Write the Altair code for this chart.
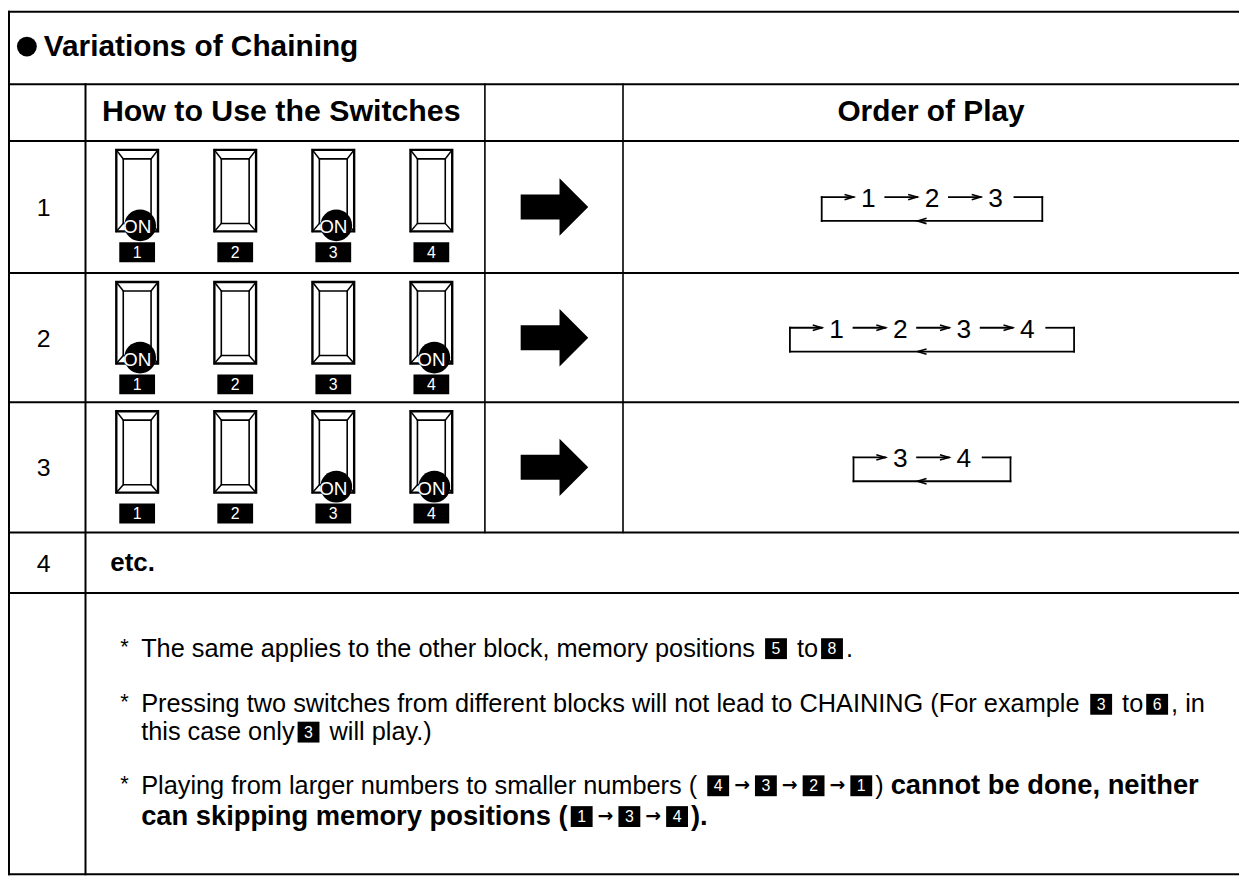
import altair as alt
import pandas as pd

# ---------------- chart content ----------------
TITLE = "Variations of Chaining"
HEADER_SWITCHES = "How to Use the Switches"
HEADER_ORDER = "Order of Play"
ROW_LABELS = ["1", "2", "3", "4"]
SWITCH_LABELS = ["1", "2", "3", "4"]
SWITCH_ON = [[1, 0, 1, 0], [1, 0, 0, 1], [0, 0, 1, 1]]
ORDER_OF_PLAY = [[1, 2, 3], [1, 2, 3, 4], [3, 4]]
ETC_TEXT = "etc."
# segment kinds: r = regular text, B = bold text, k = key box, a = small arrow
NOTE_1 = [[("r", "The same applies to the other block, memory positions "), ("k", "5"),
           ("r", " to"), ("k", "8"), ("r", ".")]]
NOTE_2 = [[("r", "Pressing two switches from different blocks will not lead to CHAINING (For example "),
           ("k", "3"), ("r", " to"), ("k", "6"), ("r", ", in")],
          [("r", "this case only"), ("k", "3"), ("r", " will play.)")]]
NOTE_3 = [[("r", "Playing from larger numbers to smaller numbers ( "), ("k", "4"), ("a", "→"),
           ("k", "3"), ("a", "→"), ("k", "2"), ("a", "→"), ("k", "1"), ("r", ") "),
           ("B", "cannot be done, neither")],
          [("B", "can skipping memory positions ("), ("k", "1"), ("a", "→"), ("k", "3"),
           ("a", "→"), ("k", "4"), ("B", ").")]]
NOTES = [NOTE_1, NOTE_2, NOTE_3]

# ---------------- layout (page pixels) ----------------
X0, X1 = 8, 1247
Y0, Y1 = 8, 878
LEFT, RIGHT, TOP, BOTTOM = 9, 1247, 9, 877
COL_NUM, COL_ARROW, COL_ORDER = 86, 488, 627
ROW_EDGES = [82, 139, 272, 402, 533, 594]
SW_X0, SW_PITCH = 138, 98.7
ORDER_CX = 938
NOTE_LINES_Y = [[650], [706, 734], [788, 819]]
FS_REG, FS_BOLD = 25.5, 27.5

# Arial / Liberation Sans advance widths (1/1000 em)
_U_R = dict(zip("ABCDEFGHIJKLMNOPQRSTUVWXYZ", [667, 667, 722, 722, 667, 611, 778, 722, 278, 500, 667, 556, 833, 722, 778, 667, 778, 722, 667, 611, 722, 667, 944, 667, 667, 611]))
_L_R = dict(zip("abcdefghijklmnopqrstuvwxyz", [556, 556, 500, 556, 556, 278, 556, 556, 222, 222, 500, 222, 833, 556, 556, 556, 556, 333, 500, 278, 556, 500, 722, 500, 500, 500]))
_U_B = dict(zip("ABCDEFGHIJKLMNOPQRSTUVWXYZ", [722, 722, 722, 722, 667, 611, 778, 722, 278, 556, 722, 611, 833, 722, 778, 667, 778, 722, 667, 611, 722, 667, 944, 667, 667, 611]))
_L_B = dict(zip("abcdefghijklmnopqrstuvwxyz", [556, 611, 556, 611, 556, 333, 611, 611, 278, 278, 556, 278, 889, 611, 611, 611, 611, 389, 556, 333, 611, 556, 778, 556, 556, 500]))
_P = {" ": 278, "(": 333, ")": 333, ",": 278, ".": 278, "-": 333, "*": 389}
W_REG = {**_U_R, **_L_R, **_P}
W_BOLD = {**_U_B, **_L_B, **_P}


def text_width(s, bold, fs):
    tbl = W_BOLD if bold else W_REG
    return sum(tbl.get(c, 556) for c in s) * fs / 1000.0


lines, thin, outer, inner, circles, labels, keys = [], [], [], [], [], [], []
arrows, chev_r, chev_l = [], [], []
t_reg_c, t_reg_l, t_bold_l, t_bold_c, t_arrow = [], [], [], [], []


def seg(store, x1, y1, x2, y2, w):
    store.append(dict(x=x1, y=y1, x2=x2, y2=y2, w=w))


# table grid
seg(lines, LEFT, TOP, RIGHT, TOP, 2)
seg(lines, LEFT, BOTTOM, RIGHT, BOTTOM, 2)
seg(lines, LEFT, TOP, LEFT, BOTTOM, 2)
for yy in ROW_EDGES:
    seg(lines, LEFT, yy, RIGHT, yy, 2)
seg(lines, COL_NUM, ROW_EDGES[0], COL_NUM, BOTTOM, 2)
seg(lines, COL_ARROW, ROW_EDGES[0], COL_ARROW, ROW_EDGES[4], 1.6)
seg(lines, COL_ORDER, ROW_EDGES[0], COL_ORDER, ROW_EDGES[4], 1.6)

# title and headers
circles.append(dict(x=27, y=44, s=400))
t_bold_l.append(dict(x=44, y=44, t=TITLE, fs=30, c="black"))
t_bold_c.append(dict(x=(COL_NUM + COL_ARROW) / 2 - 4, y=110, t=HEADER_SWITCHES, fs=30.5, c="black"))
t_bold_c.append(dict(x=(COL_ORDER + RIGHT) / 2, y=110, t=HEADER_ORDER, fs=30, c="black"))

# row numbers
row_tops = ROW_EDGES[1:5]
row_bots = ROW_EDGES[2:6]
for i, lab in enumerate(ROW_LABELS):
    t_reg_c.append(dict(x=44, y=(row_tops[i] + row_bots[i]) / 2 + 1, t=lab, fs=25, c="black"))
t_bold_l.append(dict(x=111, y=(row_tops[3] + row_bots[3]) / 2, t=ETC_TEXT, fs=26, c="black"))

# switches
for r, states in enumerate(SWITCH_ON):
    T = row_tops[r]
    for k, on in enumerate(states):
        cx = SW_X0 + SW_PITCH * k
        outer.append(dict(x=cx - 21, x2=cx + 21, y=T + 9, y2=T + 91))
        inner.append(dict(x=cx - 14, x2=cx + 14, y=T + 18, y2=T + 83))
        seg(thin, cx - 21, T + 9, cx - 14, T + 18, 1.5)
        seg(thin, cx + 21, T + 9, cx + 14, T + 18, 1.5)
        seg(thin, cx - 21, T + 91, cx - 14, T + 83, 1.5)
        seg(thin, cx + 21, T + 91, cx + 14, T + 83, 1.5)
        if on:
            circles.append(dict(x=cx + 3, y=T + 85, s=1018))
            t_reg_c.append(dict(x=cx, y=T + 87, t="ON", fs=19, c="white"))
        labels.append(dict(x=cx - 18, x2=cx + 18, y=T + 102, y2=T + 122))
        t_reg_c.append(dict(x=cx, y=T + 112.5, t=SWITCH_LABELS[k], fs=16, c="white"))
    arrows.append(dict(x=558, y=(T + row_bots[r]) / 2))

# order of play
for r, seq in enumerate(ORDER_OF_PLAY):
    yc = (row_tops[r] + row_bots[r]) / 2
    yt, yb = yc - 10, yc + 14
    n = len(seq)
    width = 64 * (n - 1) + 94
    left = ORDER_CX - width / 2
    right = left + width
    xs = [left + 47 + 64 * i for i in range(n)]
    seg(lines, left, yt, left, yb, 1.8)
    seg(lines, left, yb, right, yb, 1.8)
    seg(lines, right, yt, right, yb, 1.8)
    seg(lines, left, yt, xs[0] - 15, yt, 1.8)
    chev_r.append(dict(x=xs[0] - 19.5, y=yt))
    for i in range(n - 1):
        seg(lines, xs[i] + 17, yt, xs[i + 1] - 15, yt, 1.8)
        chev_r.append(dict(x=xs[i + 1] - 19.5, y=yt))
    seg(lines, xs[-1] + 19, yt, right, yt, 1.8)
    chev_l.append(dict(x=ORDER_CX - 10, y=yb))
    for i, v in enumerate(seq):
        t_reg_c.append(dict(x=xs[i], y=yt + 2, t=str(v), fs=26.5, c="black"))

# notes
for note, ys in zip(NOTES, NOTE_LINES_Y):
    t_reg_l.append(dict(x=121, y=ys[0] - 2, t="*", fs=22, c="black"))
    for line, yy in zip(note, ys):
        x = 142
        for kind, val in line:
            if kind in ("r", "B"):
                bold = kind == "B"
                fs = FS_BOLD if bold else FS_REG
                lead = len(val) - len(val.lstrip(" "))
                x += text_width(" " * lead, bold, fs)
                body = val.strip(" ")
                store = t_bold_l if bold else t_reg_l
                store.append(dict(x=x, y=yy, t=body, fs=fs, c="black"))
                x += text_width(val.lstrip(" "), bold, fs)
            elif kind == "k":
                x += 3
                keys.append(dict(x=x, x2=x + 22, y=yy - 10.5, y2=yy + 10.5))
                t_reg_c.append(dict(x=x + 11, y=yy + 0.5, t=val, fs=16, c="white"))
                x += 25
            else:
                t_arrow.append(dict(x=x + 10, y=yy - 1, t=val, fs=19, c="black"))
                x += 20

# ---------------- chart ----------------
XS = alt.Scale(domain=[X0, X1], range=[0, X1 - X0], nice=False, zero=False)
YS = alt.Scale(domain=[Y0, Y1], range=[0, Y1 - Y0], nice=False, zero=False)


def X(f="x"):
    return alt.X(f"{f}:Q", scale=XS, axis=None)


def Y(f="y"):
    return alt.Y(f"{f}:Q", scale=YS, axis=None)


def rules(data, color="black"):
    return alt.Chart(pd.DataFrame(data)).mark_rule(color=color, strokeCap="square").encode(
        x=X(), y=Y(), x2="x2:Q", y2="y2:Q", size=alt.Size("w:Q", scale=None, legend=None))


def rects(data, **kw):
    return alt.Chart(pd.DataFrame(data)).mark_rect(**kw).encode(x=X(), x2="x2:Q", y=Y(), y2="y2:Q")


def texts(data, font, weight, align):
    return alt.Chart(pd.DataFrame(data)).mark_text(
        font=font, fontWeight=weight, align=align, baseline="middle").encode(
        x=X(), y=Y(), text="t:N",
        size=alt.Size("fs:Q", scale=None, legend=None),
        color=alt.Color("c:N", scale=None, legend=None))


ARROW_PATH = "M-1,-0.37L0.15,-0.37L0.15,-0.85L1,0L0.15,0.85L0.15,0.37L-1,0.37Z"

layers = [
    rules(lines),
    rects(outer, fill="white", stroke="black", strokeWidth=2.4),
    rects(inner, fill="white", stroke="black", strokeWidth=1.6),
    rules(thin),
    alt.Chart(pd.DataFrame(circles)).mark_circle(color="black", opacity=1).encode(
        x=X(), y=Y(), size=alt.Size("s:Q", scale=None, legend=None)),
    rects(labels, fill="black"),
    rects(keys, fill="black"),
    alt.Chart(pd.DataFrame(arrows)).mark_point(
        shape=ARROW_PATH, size=4624, filled=True, color="black", opacity=1, strokeWidth=0).encode(x=X(), y=Y()),
    alt.Chart(pd.DataFrame(chev_r)).mark_point(
        shape="M-1,-0.6L1,0L-1,0.6", size=81, filled=False, color="black", opacity=1, strokeWidth=1.6).encode(x=X(), y=Y()),
    alt.Chart(pd.DataFrame(chev_l)).mark_point(
        shape="M1,-0.6L-1,0L1,0.6", size=81, filled=False, color="black", opacity=1, strokeWidth=1.6).encode(x=X(), y=Y()),
    texts(t_reg_c, "Liberation Sans", "normal", "center"),
    texts(t_reg_l, "Liberation Sans", "normal", "left"),
    texts(t_bold_l, "Liberation Sans", "bold", "left"),
    texts(t_bold_c, "Liberation Sans", "bold", "center"),
    texts(t_arrow, "DejaVu Sans", "bold", "center"),
]

chart = alt.layer(*layers).properties(
    width=X1 - X0, height=Y1 - Y0,
    autosize=alt.AutoSizeParams(type="none"), padding=0,
).configure_view(stroke=None)

chart.save("out.html", embed_options={"renderer": "svg", "actions": False})
